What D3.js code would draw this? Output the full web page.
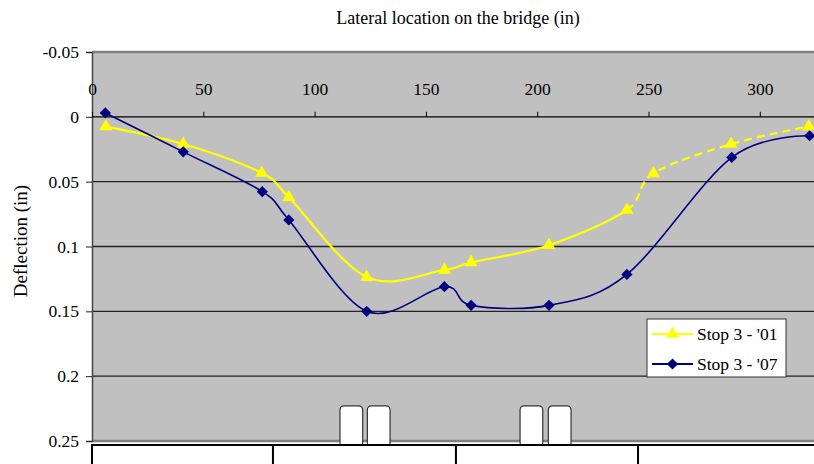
<!DOCTYPE html>
<html>
<head>
<meta charset="utf-8">
<script src="https://cdn.jsdelivr.net/npm/d3@7"></script>
<style>
  body { margin: 0; background: white; }
  text { font-family: "Liberation Serif", "Times New Roman", serif; fill: black; }
</style>
</head>
<body>
<div id="canvas"></div>
<script>
"use strict"

/* Canvas size */
let svgWidth = 814;
let svgHeight = 464;

/* Plot area edges */
let leftMargin = 92
let topMargin = 52
let plotBottom = 441

/* Series values: lateral location (in) and deflection (in) */
let xValues07 = [6, 41, 76.5, 88.4, 123.4, 158.3, 170.3, 205.3, 240.3, 287.4, 322.4];
let defl07 = [-0.003, 0.027, 0.0577, 0.0795, 0.150, 0.131, 0.1454, 0.1454, 0.1215, 0.0313, 0.0146];

let xValues01 = [6.2, 41, 76.2, 88.4, 123.4, 158.3, 170.3, 205.3, 240.3, 252.2, 287.1, 322];
let defl01 = [0.0075, 0.021, 0.0433, 0.062, 0.1236, 0.118, 0.1123, 0.099, 0.0718, 0.0436, 0.021, 0.0075];
// the '01 line is dashed after this location
let dashedFrom01 = 240.3;

let seriesNames = ["Stop 3 - '01", "Stop 3 - '07"];

/* Tick labels */
let xTicks = [0, 50, 100, 150, 200, 250, 300];
let yTicks = [-0.05, 0, 0.05, 0.1, 0.15, 0.2, 0.25];

/* Bridge sketch under the chart (inches) */
let girderEdges = [0, 81.3, 163.5, 245.3, 327.5];
let wheelStarts = [111.4, 123.7, 192.3, 205];
let wheelWidth = 10.2;
let wheelTop = 0.2229;

let svg = d3.select("#canvas")
    .append("svg")
    .attr("width", svgWidth)
    .attr("height", svgHeight);

let xScale = d3.scaleLinear()
    .domain([0, 330])
    .range([leftMargin, leftMargin + 330 * 2.226]);

let yScale = d3.scaleLinear()
    .domain([-0.05, 0.25])
    .range([topMargin, plotBottom]);

/* Gray plot background */
svg.append("rect")
    .attr("x", leftMargin)
    .attr("y", topMargin)
    .attr("width", svgWidth - leftMargin + 5)
    .attr("height", plotBottom - topMargin)
    .attr("fill", "#c0c0c0");

/* Horizontal gridlines */
svg.selectAll(".grid")
    .data([0.05, 0.1, 0.15, 0.2])
    .join("line")
    .attr("x1", leftMargin)
    .attr("x2", svgWidth)
    .attr("y1", d => yScale(d))
    .attr("y2", d => yScale(d))
    .attr("stroke", "#222")
    .attr("stroke-width", 1.3);

/* Plot border top and bottom */
svg.append("line")
    .attr("x1", leftMargin).attr("x2", svgWidth)
    .attr("y1", yScale(-0.05)).attr("y2", yScale(-0.05))
    .attr("stroke", "#808080").attr("stroke-width", 2.5);
svg.append("line")
    .attr("x1", leftMargin).attr("x2", svgWidth)
    .attr("y1", yScale(0.25)).attr("y2", yScale(0.25))
    .attr("stroke", "#808080").attr("stroke-width", 2.5);

/* Y axis */
let yAxis = d3.axisLeft(yScale)
    .tickValues(yTicks)
    .tickSize(6)
    .tickPadding(7)
    .tickFormat(d => d === 0 ? "0" : String(d));

let yAxisG = svg.append("g")
    .attr("transform", "translate(" + leftMargin + ",0)")
    .call(yAxis);
yAxisG.select(".domain").attr("stroke", "#444").attr("stroke-width", 1.5);
yAxisG.selectAll("line").attr("stroke", "#222");
yAxisG.selectAll("text")
    .style("font-size", "17.5px")
    .style("font-family", "Liberation Serif");

/* X axis crossing at 0, labels above */
let xAxis = d3.axisTop(xScale)
    .tickValues(xTicks)
    .tickSize(5)
    .tickPadding(17)
    .tickFormat(d3.format("d"));

let xAxisG = svg.append("g")
    .attr("transform", "translate(0," + yScale(0) + ")")
    .call(xAxis);
xAxisG.select(".domain").remove();
xAxisG.append("line")
    .attr("x1", leftMargin).attr("x2", svgWidth)
    .attr("stroke", "black").attr("stroke-width", 1.3);
xAxisG.selectAll(".tick line").attr("stroke", "black");
xAxisG.selectAll("text")
    .style("font-size", "17.5px")
    .style("font-family", "Liberation Serif");

/* Axis titles */
svg.append("text")
    .attr("x", 458)
    .attr("y", 24)
    .style("text-anchor", "middle")
    .style("font-size", "18px")
    .text("Lateral location on the bridge (in)");

svg.append("text")
    .attr("transform", "translate(27,241) rotate(-90)")
    .style("text-anchor", "middle")
    .style("font-size", "19px")
    .text("Deflection (in)");

/* Wheels */
svg.selectAll(".wheel")
    .data(wheelStarts)
    .join("rect")
    .attr("x", d => xScale(d))
    .attr("y", yScale(wheelTop))
    .attr("width", d => xScale(d + wheelWidth) - xScale(d))
    .attr("height", 41)
    .attr("rx", 4)
    .attr("fill", "white")
    .attr("stroke", "#333")
    .attr("stroke-width", 1.2);

/* Girders */
svg.selectAll(".girder")
    .data(d3.pairs(girderEdges))
    .join("rect")
    .attr("x", d => xScale(d[0]))
    .attr("y", 445)
    .attr("width", d => xScale(d[1]) - xScale(d[0]))
    .attr("height", 40)
    .attr("fill", "white")
    .attr("stroke", "black")
    .attr("stroke-width", 2);

/* Lines */
let line = d3.line()
    .x(d => xScale(d[0]))
    .y(d => yScale(d[1]))
    .curve(d3.curveCardinal.tension(0));

let data01 = d3.zip(xValues01, defl01);
let data07 = d3.zip(xValues07, defl07);

let defs = svg.append("defs");
defs.append("clipPath").attr("id", "solidPart")
    .append("rect")
    .attr("x", 0).attr("y", 0)
    .attr("width", xScale(dashedFrom01)).attr("height", svgHeight);
defs.append("clipPath").attr("id", "dashPart")
    .append("rect")
    .attr("x", xScale(dashedFrom01)).attr("y", 0)
    .attr("width", svgWidth).attr("height", svgHeight);

svg.append("path")
    .attr("d", line(data01))
    .attr("fill", "none")
    .attr("stroke", "#ffff00")
    .attr("stroke-width", 2.2)
    .attr("clip-path", "url(#solidPart)");

svg.append("path")
    .attr("d", line(data01))
    .attr("fill", "none")
    .attr("stroke", "#ffff00")
    .attr("stroke-width", 2.2)
    .attr("stroke-dasharray", "8,5")
    .attr("clip-path", "url(#dashPart)");

svg.append("path")
    .attr("d", line(data07))
    .attr("fill", "none")
    .attr("stroke", "#000080")
    .attr("stroke-width", 1.6);

/* Markers */
let triangle = d3.symbol().type(d3.symbolTriangle).size(75);
let diamond = d3.symbol().type(d3.symbolDiamond2).size(80);

svg.selectAll(".tri")
    .data(data01)
    .join("path")
    .attr("d", triangle)
    .attr("transform", d => "translate(" + xScale(d[0]) + "," + yScale(d[1]) + ")")
    .attr("fill", "#ffff00");

svg.selectAll(".dia")
    .data(data07)
    .join("path")
    .attr("d", diamond)
    .attr("transform", d => "translate(" + xScale(d[0]) + "," + yScale(d[1]) + ")")
    .attr("fill", "#000080");

/* Legend */
let legend = svg.append("g").attr("transform", "translate(647,319)");
legend.append("rect")
    .attr("width", 139)
    .attr("height", 58)
    .attr("fill", "white")
    .attr("stroke", "#333")
    .attr("stroke-width", 1);

let legendColors = ["#ffff00", "#000080"];
let legendSymbols = [triangle, diamond];
for (let i = 0; i < 2; i++) {
    let rowY = 15 + i * 30;
    legend.append("line")
        .attr("x1", 5).attr("x2", 46)
        .attr("y1", rowY).attr("y2", rowY)
        .attr("stroke", legendColors[i])
        .attr("stroke-width", 2);
    legend.append("path")
        .attr("d", legendSymbols[i])
        .attr("transform", "translate(25.5," + rowY + ")")
        .attr("fill", legendColors[i]);
    legend.append("text")
        .attr("x", 50)
        .attr("y", rowY + 6)
        .style("font-size", "17.5px")
        .text(seriesNames[i]);
}
</script>
</body>
</html>
